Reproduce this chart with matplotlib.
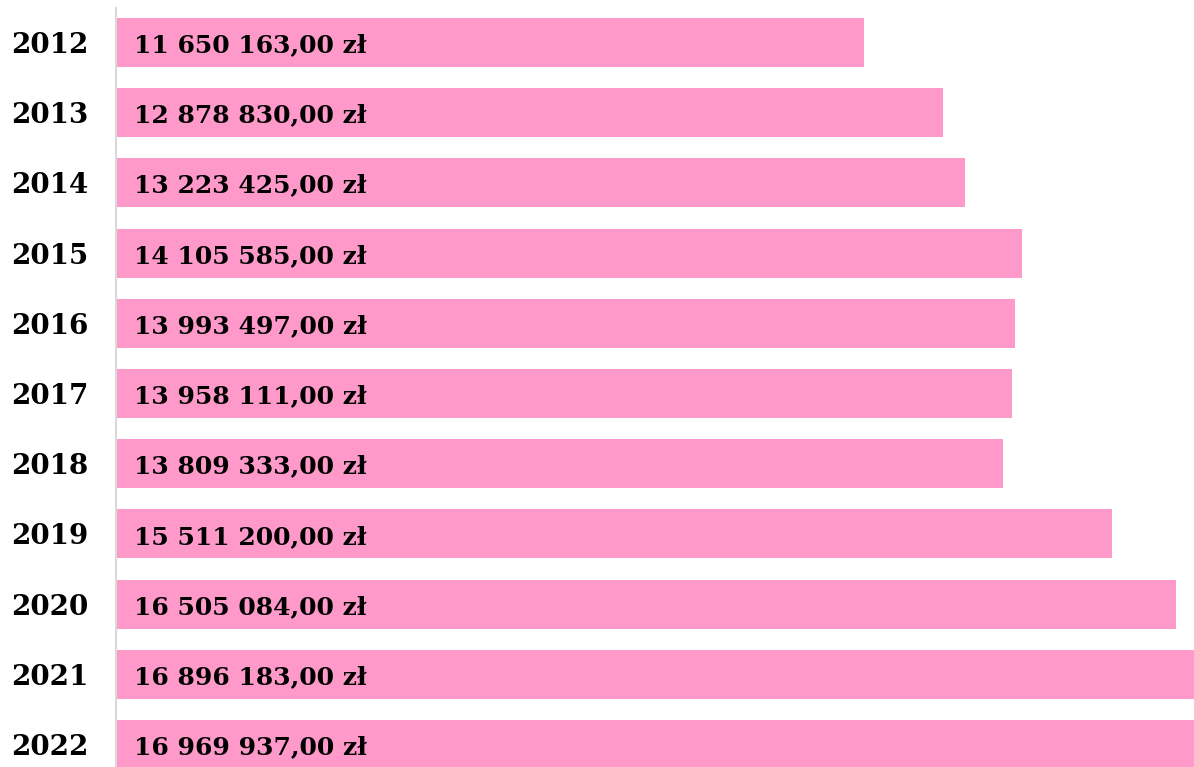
import matplotlib.pyplot as plt

years = ['2012', '2013', '2014', '2015', '2016', '2017', '2018', '2019', '2020', '2021', '2022']
values = [11650163, 12878830, 13223425, 14105585, 13993497, 13958111, 13809333,
          15511200, 16505084, 16896183, 16969937]
labels = ['11 650 163,00 zł', '12 878 830,00 zł', '13 223 425,00 zł', '14 105 585,00 zł',
          '13 993 497,00 zł', '13 958 111,00 zł', '13 809 333,00 zł', '15 511 200,00 zł',
          '16 505 084,00 zł', '16 896 183,00 zł', '16 969 937,00 zł']

plt.rcParams['font.family'] = ['DejaVu Serif']

fig = plt.figure(figsize=(11.94, 7.67), dpi=100)
ax = fig.add_axes([116 / 1194, 0, 1 - 116 / 1194, 1])

pos = list(range(len(years)))
ax.barh(pos, values, height=0.7, color='#fe99c9', edgecolor='none')

ax.set_xlim(0, 16787000)
ax.set_ylim(10.32, -0.605)

for i, lab in enumerate(labels):
    ax.annotate(lab, (0, i), xytext=(13, -2), textcoords='offset points',
                va='center', ha='left', fontsize=18, fontweight='bold', color='black')

ax.set_yticks(pos)
ax.set_yticklabels(years, fontsize=20, fontweight='bold')
ax.tick_params(axis='y', length=0, pad=20)
ax.set_xticks([])

for s in ['top', 'right', 'bottom']:
    ax.spines[s].set_visible(False)
ax.spines['left'].set_color('#d9d9d9')
ax.spines['left'].set_linewidth(1.5)
ax.spines['left'].set_bounds(-0.49, 10.32)

plt.savefig('out.png', dpi=100)
